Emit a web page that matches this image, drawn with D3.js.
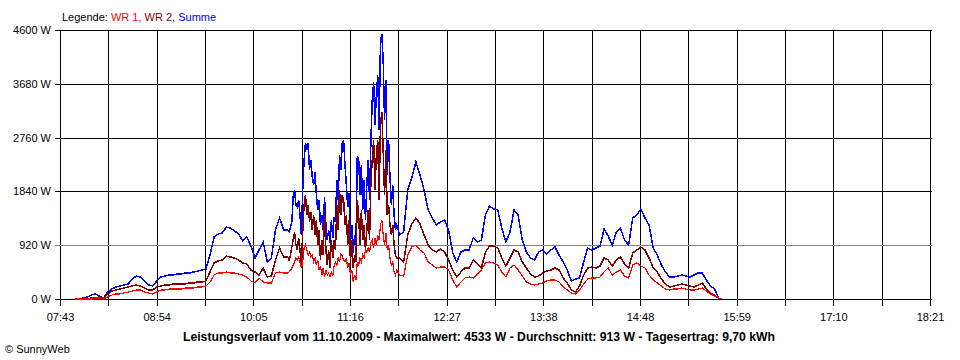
<!DOCTYPE html>
<html>
<head>
<meta charset="utf-8">
<script src="https://cdn.jsdelivr.net/npm/d3@7"></script>
<style>
  body { margin: 0; background: #fff; }
  svg { display: block; font-family: "Liberation Sans", Arial, sans-serif; }
</style>
</head>
<body>
<div id="chart"></div>
<script>
// sample times (HH:MM)
const times = [
  "07:54","07:57","08:00","08:03","08:06","08:09","08:12","08:15","08:18","08:21","08:24","08:27","08:30","08:33","08:36","08:39","08:42","08:45","08:48","08:51",
  "08:54","08:57","09:00","09:03","09:06","09:09","09:12","09:15","09:18","09:21","09:24","09:27","09:30","09:33","09:36","09:39","09:42","09:45","09:48","09:51",
  "09:54","09:57","10:00","10:03","10:06","10:09","10:12","10:15","10:18","10:21","10:24","10:27",
  "10:30","10:31","10:32","10:33","10:34","10:35","10:36","10:37","10:38","10:39","10:40","10:41","10:42","10:43","10:44","10:45","10:46","10:47","10:48","10:49",
  "10:50","10:51","10:52","10:53","10:54","10:55","10:56","10:57","10:58","10:59","11:00","11:01","11:02","11:03","11:04","11:05","11:06","11:07","11:08","11:09",
  "11:10","11:11","11:12","11:13","11:14","11:15","11:16","11:17","11:18","11:19","11:20","11:21","11:22","11:23","11:24","11:25","11:26","11:27","11:28","11:29",
  "11:30","11:31","11:32","11:33","11:34","11:35","11:36","11:37","11:38","11:39","11:40","11:41","11:42","11:43","11:44","11:45","11:46","11:47","11:48","11:49","11:50",
  "11:52","11:55","11:58","12:01","12:04","12:07","12:10","12:13","12:16","12:19","12:22","12:25","12:28","12:31","12:34","12:37","12:40","12:43","12:46","12:49",
  "12:52","12:55","12:58","13:01","13:04","13:07","13:10","13:13","13:16","13:19","13:22","13:25","13:28","13:31","13:34","13:37","13:40","13:43","13:46","13:49",
  "13:52","13:55","13:58","14:01","14:04","14:07","14:10","14:13","14:16","14:19","14:22","14:25","14:28","14:31","14:34","14:37","14:40","14:43","14:46","14:49",
  "14:52","14:55","14:58","15:01","15:04","15:07","15:10","15:13","15:16","15:19","15:22","15:25","15:28","15:31","15:34","15:37","15:40","15:43","15:46","15:48"
];

// WR 1 (W)
const wr1 = [
  0,0,0,0,0,17,17,0,34,68,86,86,103,120,137,154,154,120,103,86,
  120,154,154,171,171,171,171,188,188,188,205,205,222,291,410,445,445,462,445,445,
  428,410,376,308,274,359,291,274,274,445,462,445,
  445,462,496,530,581,633,701,667,718,633,530,633,872,923,838,752,804,718,752,633,
  701,581,667,496,564,410,530,376,496,410,445,376,462,393,564,633,581,701,633,770,
  735,667,633,701,530,616,410,496,291,410,325,633,581,701,633,752,701,838,804,872,
  804,958,1009,872,1043,923,1094,1009,1265,1351,1094,923,1129,838,923,701,581,633,462,410,496,
  410,393,752,889,923,838,787,633,581,530,547,547,496,325,205,291,359,376,359,428,
  496,616,633,616,581,462,376,530,581,496,393,291,257,239,257,274,308,325,325,291,
  205,154,103,86,154,257,342,359,359,376,462,530,410,462,496,393,359,581,616,564,
  530,410,325,274,222,171,154,171,171,188,171,154,154,171,188,137,86,51,17,0
];

// WR 2 (W)
const wr2 = [
  0,0,0,0,17,17,34,17,86,137,154,171,188,205,222,239,222,188,154,154,
  205,222,239,239,257,257,257,257,274,274,291,291,308,462,616,650,667,735,718,701,
  667,616,599,496,462,410,530,376,393,667,872,718,
  718,667,752,889,1009,1146,923,838,1043,838,564,1146,1607,1778,1436,1607,1317,1488,1180,1436,
  1094,1351,923,1180,667,1009,752,1471,838,581,838,530,1009,701,1009,838,1607,1180,1864,1436,
  1778,1693,1265,1436,923,1351,633,1009,530,752,633,1693,1436,923,1522,1009,1265,838,1180,1522,
  1009,2035,2377,2719,1864,2462,2719,1693,2975,3198,2548,1778,2548,1436,1607,1265,1094,1265,923,752,701,
  701,633,1094,1283,1385,1283,1094,923,838,804,855,804,667,496,376,462,530,530,667,599,
  530,804,906,906,872,701,564,701,838,804,633,530,428,376,393,445,479,496,530,496,
  359,274,154,120,222,410,530,547,530,564,701,667,564,667,718,599,530,787,838,889,
  838,701,530,462,342,257,205,222,239,257,239,222,205,239,274,171,103,68,17,0
];

// Summe (W)
const summe = [
  0,0,17,34,68,86,51,17,120,171,205,222,239,257,342,393,376,308,239,222,
  308,376,393,410,410,428,428,445,445,462,479,496,513,752,1060,1112,1129,1231,1214,1163,
  1112,992,1060,906,701,838,975,633,701,1180,1385,1180,
  1180,1146,1231,1317,1744,1864,1607,1573,1693,1436,1094,1864,2377,2668,2548,2668,2206,2377,2086,1949,
  2172,1778,1522,1693,1265,1436,1180,1744,1265,1009,1180,958,1351,1043,1402,1317,2035,1693,2462,2206,
  2668,2719,2291,1949,1573,1813,958,1265,787,1094,923,2428,2411,1778,2291,1522,2035,1351,1949,2377,
  1693,2719,3403,3711,2975,3488,3830,2890,4395,4533,4087,3061,3745,2120,2719,2069,1607,1949,1436,1180,1265,
  1094,1146,1864,2069,2343,2120,1864,1522,1385,1265,1317,1351,1180,787,633,804,838,838,1043,975,
  1009,1436,1590,1539,1522,1214,975,1146,1522,1436,1009,804,701,667,804,838,770,838,889,752,
  633,496,308,342,359,633,872,838,872,906,1197,1077,923,1146,1214,1009,923,1385,1436,1539,
  1385,1265,872,752,581,462,376,376,393,410,393,376,410,445,445,325,222,171,17,0
];

const xTickLabels = ["07:43","08:54","10:05","11:16","12:27","13:38","14:48","15:59","17:10","18:21"];
const yTicks = [0, 920, 1840, 2760, 3680, 4600];
const seriesNames = ["WR 1", "WR 2", "Summe"];
const seriesColors = ["#ff0000", "#800000", "#0000ff"];
const titleText = "Leistungsverlauf vom 11.10.2009 - Maximalwert: 4533 W - Durchschnitt: 913 W - Tagesertrag: 9,70 kWh";

const W = 960, H = 360;
const toMin = s => { const [h, m] = s.split(":").map(Number); return h * 60 + m; };

const svg = d3.select("#chart").append("svg").attr("width", W).attr("height", H);

const x0 = toMin(xTickLabels[0]), x1 = toMin(xTickLabels[xTickLabels.length - 1]);
const x = d3.scaleLinear().domain([x0, x1]).range([60, 930]);
const y = d3.scaleLinear().domain([0, 4600]).range([299, 30]);
const px = v => Math.round(v) + 0.5;

// grid: 18 columns, a label on every second line
const nCols = (xTickLabels.length - 1) * 2;
const gridTimes = d3.range(nCols + 1).map(i => x0 + i * (x1 - x0) / nCols);

const grid = svg.append("g").attr("shape-rendering", "crispEdges");
gridTimes.forEach(t => {
  grid.append("line")
    .attr("x1", px(x(t))).attr("x2", px(x(t)))
    .attr("y1", px(y(4600))).attr("y2", px(y(0)) + 6)
    .attr("stroke", "#000");
});
yTicks.forEach(v => {
  grid.append("line")
    .attr("x1", 55).attr("x2", px(x(x1)) + 1)
    .attr("y1", px(y(v))).attr("y2", px(y(v)))
    .attr("stroke", v === 920 ? "#808080" : "#000");
});

// y labels
svg.append("g").selectAll("text").data(yTicks).join("text")
  .attr("x", 51).attr("y", d => y(d) + 4)
  .attr("text-anchor", "end").attr("font-size", 11).attr("fill", "#000")
  .text(d => d + " W");

// x labels
svg.append("g").selectAll("text").data(xTickLabels).join("text")
  .attr("x", (d, i) => x(gridTimes[i * 2]) + 0.5).attr("y", 321)
  .attr("text-anchor", "middle").attr("font-size", 11).attr("fill", "#000")
  .text(d => d);

// lines: Summe first, then WR 2, then WR 1 on top
const mins = times.map(toMin);
const line = d3.line().x(d => x(d[0])).y(d => y(d[1]));
[[summe, 2, 1.5], [wr2, 1, 1.5], [wr1, 0, 1.2]].forEach(([vals, ci, sw]) => {
  svg.append("path")
    .datum(vals.map((v, i) => [mins[i], v]))
    .attr("fill", "none")
    .attr("stroke", seriesColors[ci])
    .attr("stroke-width", sw)
    .attr("shape-rendering", "crispEdges")
    .attr("d", line);
});

// legend
const leg = svg.append("text").attr("x", 62).attr("y", 21).attr("font-size", 11);
leg.append("tspan").attr("fill", "#000").text("Legende: ");
seriesNames.forEach((n, i) => {
  leg.append("tspan").attr("fill", seriesColors[i]).text(n + (i < seriesNames.length - 1 ? ", " : ""));
});

// title
svg.append("text")
  .attr("x", 183).attr("y", 341)
  .attr("font-size", 12).attr("font-weight", "bold")
  .attr("textLength", 592).attr("lengthAdjust", "spacingAndGlyphs")
  .text(titleText);

svg.append("text").attr("x", 5).attr("y", 353).attr("font-size", 11).text("© SunnyWeb");
</script>
</body>
</html>
